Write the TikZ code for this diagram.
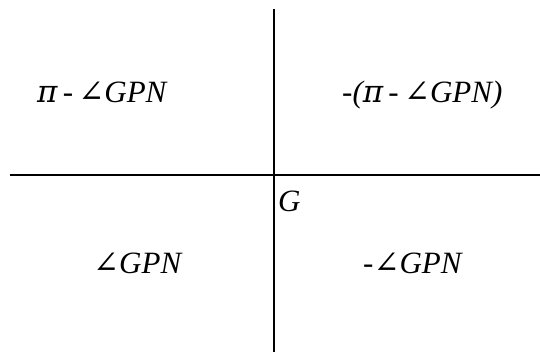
\documentclass[tikz,border=0pt]{standalone}
\usepackage{fontspec}
\setmainfont{Liberation Serif}
\newfontfamily\symf{DejaVu Serif}
\newcommand{\ang}{{\symf\upshape ∠}}
\newcommand{\pii}{{\symf\itshape π}}
\newcommand{\gapsp}{\hspace{0.17em}}
\begin{document}
\begin{tikzpicture}[x=1pt,y=-1pt,
  axis/.style={line width=2pt,black},
  lbl/.style={anchor=base west,inner sep=0pt,font=\fontsize{31}{36}\selectfont\itshape}]
\useasboundingbox (0,0) rectangle (540,352);
\coordinate (vt) at (273.5,9);
\coordinate (vb) at (273.5,352);
\coordinate (hl) at (10,175);
\coordinate (hr) at (540,175);
\draw[axis] (vt) -- (vb);
\draw[axis] (hl) -- (hr);
\node[lbl] (q1) at (37,103) {\pii\gapsp-\gapsp\ang GPN};
\node[lbl] (q2) at (342,103) {-(\pii\gapsp-\gapsp\ang GPN)};
\node[lbl] (q3) at (93,273) {\ang GPN};
\node[lbl] (q4) at (363,273) {-\ang GPN};
\node[lbl] (g) at (278,212) {G};
\end{tikzpicture}
\end{document}
